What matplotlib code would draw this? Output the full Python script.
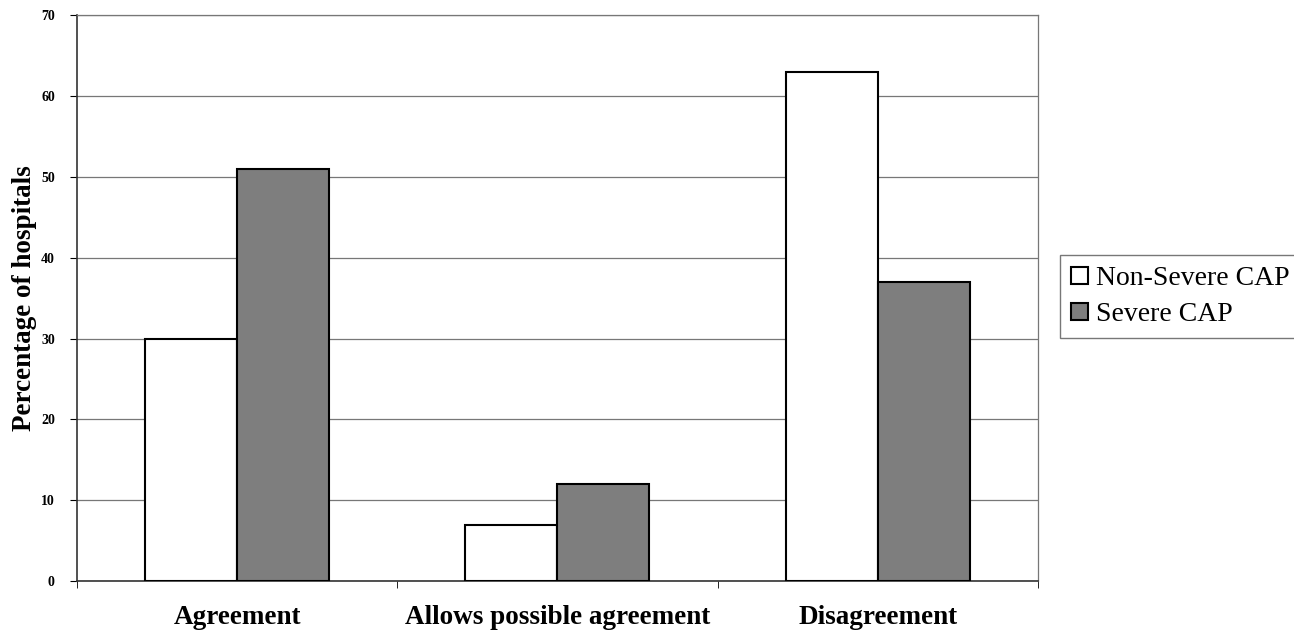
import matplotlib.pyplot as plt
import numpy as np

categories = ["Agreement", "Allows possible agreement", "Disagreement"]
non_severe = [30, 7, 63]
severe = [51, 12, 37]
series_names = ["Non-Severe CAP", "Severe CAP"]

plt.rcParams['font.family'] = ['Liberation Serif', 'DejaVu Serif']

fig = plt.figure(figsize=(12.94, 6.38), dpi=100)
ax = fig.add_axes([0.0595, 0.089, 0.7425, 0.8875])

x = np.arange(len(categories))
w = 0.287
ax.bar(x - w/2, non_severe, w, color='white', edgecolor='black', linewidth=1.5,
       label=series_names[0], zorder=3)
ax.bar(x + w/2, severe, w, color='#7e7e7e', edgecolor='black', linewidth=1.5,
       label=series_names[1], zorder=3)

ax.set_xlim(-0.5, 2.5)
ax.set_ylim(0, 70)
ax.set_yticks(range(0, 71, 10))
ax.set_yticklabels([str(v) for v in range(0, 71, 10)], fontsize=10, fontweight='bold')
ax.yaxis.grid(True, color='#777777', linewidth=0.9, zorder=0)

ax.set_xticks(x)
ax.set_xticklabels(categories, fontsize=19.5, fontweight='bold')
ax.tick_params(axis='x', length=0, pad=17)
ax.set_xticks([-0.5, 0.5, 1.5, 2.5], minor=True)
ax.tick_params(axis='x', which='minor', length=5, direction='out')
ax.tick_params(axis='y', length=5, direction='out', pad=11)

for s in ['left', 'bottom']:
    ax.spines[s].set_linewidth(1.2)
    ax.spines[s].set_color('#333333')
for s in ['top', 'right']:
    ax.spines[s].set_linewidth(0.9)
    ax.spines[s].set_color('#777777')

ax.set_ylabel("Percentage of hospitals", fontsize=19.5, fontweight='bold', labelpad=3)

leg = fig.legend(loc='center left', bbox_to_anchor=(0.819, 0.535), fontsize=20,
                 frameon=True, fancybox=False, edgecolor='#555555',
                 handlelength=0.6, handleheight=0.6, handletextpad=0.3,
                 borderpad=0.4, labelspacing=0.4, borderaxespad=0)
leg.get_frame().set_linewidth(1.0)

fig.savefig("out.png", dpi=100)
